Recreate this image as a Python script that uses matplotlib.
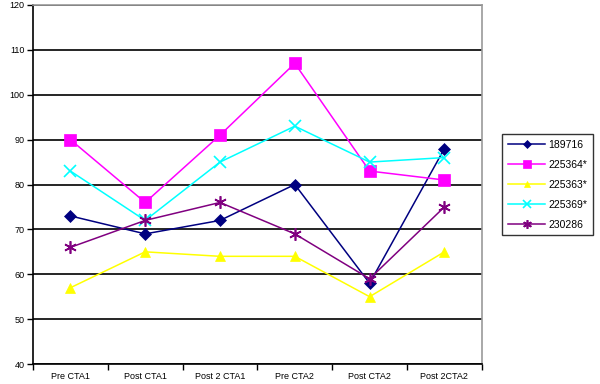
import matplotlib
matplotlib.use("Agg")
import matplotlib.pyplot as plt
import numpy as np

plt.rcParams['font.family'] = ['Liberation Sans', 'DejaVu Sans']

categories = ["Pre CTA1", "Post CTA1", "Post 2 CTA1", "Pre CTA2", "Post CTA2", "Post 2CTA2"]
series_names = ["189716", "225364*", "225363*", "225369*", "230286"]
v_189716 = [73, 69, 72, 80, 58, 88]
v_225364 = [90, 76, 91, 107, 83, 81]
v_225363 = [57, 65, 64, 64, 55, 65]
v_225369 = [83, 72, 85, 93, 85, 86]
v_230286 = [66, 72, 76, 69, 59, 75]
yticks = [40, 50, 60, 70, 80, 90, 100, 110, 120]

values = [v_189716, v_225364, v_225363, v_225369, v_230286]
colors = ['#000080', '#FF00FF', '#FFFF00', '#00FFFF', '#800080']
markers = ['D', 's', '^', 'x', (6, 2, 0)]
msizes = [6, 8, 7, 8, 9]

fig = plt.figure(figsize=(6, 3.84), dpi=100)
ax = fig.add_axes([0.055, 0.052, 0.748, 0.935])

x = np.arange(len(categories))
for name, vals, c, m, ms in zip(series_names, values, colors, markers, msizes):
    ax.plot(x, vals, color=c, marker=m, markersize=ms, linewidth=1.1,
            markeredgewidth=1.2 if m in ('x', (6, 2, 0)) else 0.5,
            markeredgecolor=c, label=name, zorder=3)

ax.set_xlim(-0.5, len(categories) - 0.5)
ax.set_ylim(40, 120)
ax.set_yticks(yticks)
ax.set_yticklabels([str(t) for t in yticks], fontsize=6.5)
ax.yaxis.grid(True, color='black', linewidth=1.2)
ax.set_axisbelow(True)

ax.set_xticks(x)
ax.set_xticklabels(categories, fontsize=6.5)
ax.set_xticks(np.arange(-0.5, len(categories)), minor=True)
ax.tick_params(axis='x', which='major', length=0, pad=6)
ax.tick_params(axis='x', which='minor', length=4, width=1, direction='out', color='black')
ax.tick_params(axis='y', length=4, width=1, direction='out', pad=2)

for s in ['left', 'bottom']:
    ax.spines[s].set_color('black')
    ax.spines[s].set_linewidth(1.2)
for s in ['right', 'top']:
    ax.spines[s].set_color('#999999')
    ax.spines[s].set_linewidth(1.2)

leg = fig.legend(loc='upper left', bbox_to_anchor=(0.837, 0.650), fontsize=7.5,
                 frameon=True, fancybox=False, edgecolor='black', borderaxespad=0,
                 handlelength=3.6, labelspacing=0.95, borderpad=0.55, handletextpad=0.3,
                 markerscale=0.7)
leg.get_frame().set_linewidth(1.0)

fig.savefig("out.png", dpi=100)
